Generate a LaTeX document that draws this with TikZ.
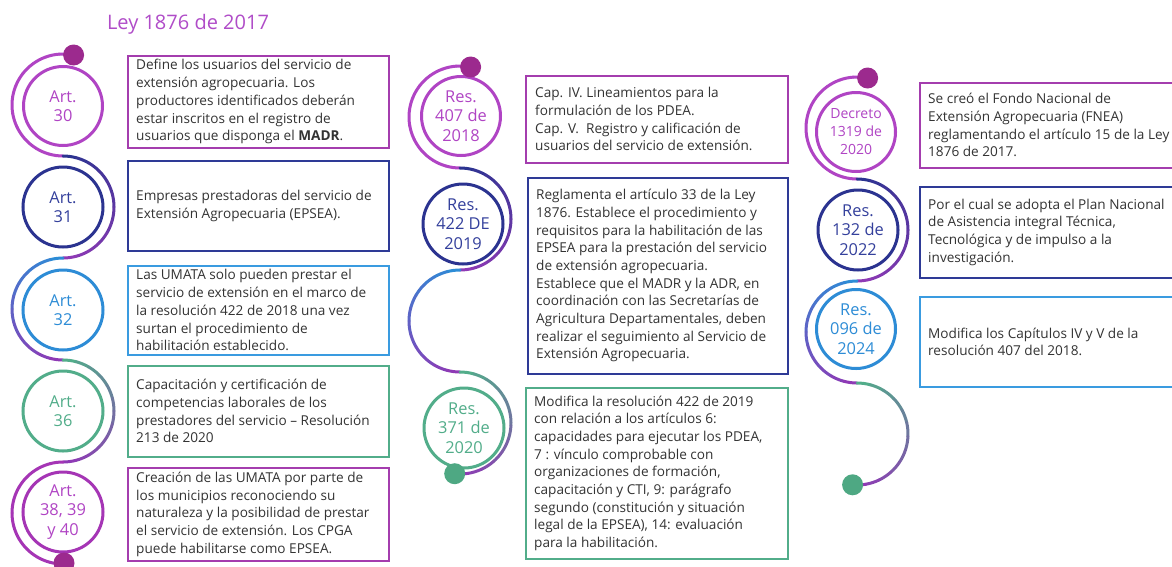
\documentclass[tikz,border=0pt]{standalone}
\usepackage{fontspec}
\setmainfont{Open Sans}
\definecolor{lpurple}{HTML}{B044C4}
\definecolor{dpurple}{HTML}{A535B5}
\definecolor{gpurple}{HTML}{8E3AB5}
\definecolor{dotp}{HTML}{9C2A8E}
\definecolor{navy}{HTML}{2B3390}
\definecolor{navyt}{HTML}{34409C}
\definecolor{cblue}{HTML}{2D8CD6}
\definecolor{bblue}{HTML}{3A9BE0}
\definecolor{teal}{HTML}{52AD8A}
\definecolor{dteal}{HTML}{4EA883}
\definecolor{bpurple}{HTML}{A43DAE}
\definecolor{bnavy}{HTML}{2E3A96}
\definecolor{txtgray}{HTML}{333333}
\definecolor{titlec}{HTML}{B04CC8}
\tikzset{
  arcline/.style={line width=3, line cap=round},
  infobox/.style={draw, line width=1.5, anchor=north west, inner sep=0},
  desc/.style={anchor=west, align=left, text=txtgray, inner sep=0, xshift=9,
    font=\fontsize{13.6}{17.7}\selectfont},
  circ/.style={circle, draw, line width=3, minimum size=79, inner sep=0, align=center,
    font=\fontsize{16.4}{19.5}\selectfont},
  dotn/.style={circle, inner sep=0, minimum size=21},
  titlesty/.style={text=titlec, font=\fontsize{20}{24}\selectfont, inner sep=0}
}
\newcommand\garc[6]{%
  \foreach \k in {0,...,11}{%
    \pgfmathsetmacro\gA{#3+(#4-#3)*\k/12}%
    \pgfmathsetmacro\gB{#3+(#4-#3)*(\k+1)/12}%
    \pgfmathtruncatemacro\gP{100-100*\k/11}%
    \draw[arcline, #5!\gP!#6] ({#1+51*cos(\gA)},{#2+51*sin(\gA)}) arc[start angle=\gA, end angle=\gB, radius=51];
  }}
\begin{document}
\begin{tikzpicture}[x=1pt,y=-1pt]
\clip (0,0) rectangle (1172,566);
\fill[white] (0,0) rectangle (1172,566);

\node[titlesty] (title) at (188,24) {Ley 1876 de 2017};

% ---------- left column ----------
\garc{63}{105}{282}{90}{lpurple}{lpurple}
\garc{63}{207}{-90}{90}{navy}{gpurple}
\garc{63}{309}{270}{90}{cblue}{gpurple}
\garc{63}{411}{-90}{90}{teal}{gpurple}
\garc{63}{513}{270}{90}{dpurple}{dpurple}

\node[circ, draw=lpurple, text=lpurple] (c30) at (63,106) {Art.\\30};
\node[circ, draw=navy, text=navyt, minimum size=80] (c31) at (63,207) {Art.\\31};
\node[circ, draw=cblue, text=cblue, minimum size=80] (c32) at (63,310) {Art.\\32};
\node[circ, draw=teal, text=teal, minimum size=80] (c36) at (63,411) {Art.\\36};
\node[circ, draw=dpurple, text=lpurple, minimum size=80] (c38) at (63,512) {Art.\\38, 39\\y 40};

\node[dotn, fill=dotp] (ltop) at (73.6,55) {};
\node[dotn, fill=dotp] (lbot) at (64,563) {};

\node[infobox, draw=bpurple, minimum width=261, minimum height=92] (b30) at (127,55) {};
\node[desc] (t30) at (b30.west) {Define los usuarios del servicio de\\extensión agropecuaria. Los\\productores identificados deberán\\estar inscritos en el registro de\\usuarios que disponga el \textbf{MADR}.};
\node[infobox, draw=bnavy, minimum width=261, minimum height=90] (b31) at (127,160) {};
\node[desc] (t31) at (b31.west) {Empresas prestadoras del servicio de\\Extensión Agropecuaria (EPSEA).};
\node[infobox, draw=bblue, minimum width=261, minimum height=89] (b32) at (127,265) {};
\node[desc] (t32) at (b32.west) {Las UMATA solo pueden prestar el\\servicio de extensión en el marco de\\la resolución 422 de 2018 una vez\\surtan el procedimiento de\\habilitación establecido.};
\node[infobox, draw=teal, minimum width=261, minimum height=91] (b36) at (127,365) {};
\node[desc] (t36) at (b36.west) {Capacitación y certificación de\\competencias laborales de los\\prestadores del servicio – Resolución\\213 de 2020};
\node[infobox, draw=bpurple, minimum width=261, minimum height=93] (b38) at (127,467) {};
\node[desc] (t38) at (b38.west) {Creación de las UMATA por parte de\\los municipios reconociendo su\\naturaleza y la posibilidad de prestar\\el servicio de extensión. Los CPGA\\puede habilitarse como EPSEA.};

% ---------- middle column ----------
\garc{460}{117}{282}{90}{lpurple}{lpurple}
\garc{460}{219}{-90}{90}{navy}{gpurple}
\garc{460}{321}{270}{90}{cblue}{gpurple}
\garc{460}{423}{-90}{96}{teal}{gpurple}

\node[circ, draw=lpurple, text=lpurple] (r407) at (461,116) {Res.\\407 de\\2018};
\node[circ, draw=navy, text=navyt, minimum size=80] (r422) at (463,224) {Res.\\422 DE\\2019};
\node[circ, draw=teal, text=teal, minimum size=80] (r371) at (464,428) {Res.\\371 de\\2020};

\node[dotn, fill=dotp] (mtop) at (470.6,67) {};
\node[dotn, fill=dteal] (mbot) at (454.7,473.7) {};

\node[infobox, draw=bpurple, minimum width=262, minimum height=87] (b407) at (525,75) {};
\node[desc, xshift=1] (t407) at (b407.west) {Cap. IV. Lineamientos para la\\formulación de los PDEA.\\Cap. V.\ \ Registro y calificación de\\usuarios del servicio de extensión.};
\node[infobox, draw=bnavy, minimum width=260, minimum height=196] (b422) at (527,177) {};
\node[desc] (t422) at (b422.west) {Reglamenta el artículo 33 de la Ley\\1876. Establece el procedimiento y\\requisitos para la habilitación de las\\EPSEA para la prestación del servicio\\de extensión agropecuaria.\\Establece que el MADR y la ADR, en\\coordinación con las Secretarías de\\Agricultura Departamentales, deben\\realizar el seguimiento al Servicio de\\Extensión Agropecuaria.};
\node[infobox, draw=teal, minimum width=262, minimum height=171] (b371) at (525,387) {};
\node[desc] (t371) at (b371.west) {Modifica la resolución 422 de 2019\\con relación a los artículos 6:\\capacidades para ejecutar los PDEA,\\7 : vínculo comprobable con\\organizaciones de formación,\\capacitación y CTI, 9: parágrafo\\segundo (constitución y situación\\legal de la EPSEA), 14: evaluación\\para la habilitación.};

% ---------- right column ----------
\garc{857}{128}{282}{90}{lpurple}{lpurple}
\garc{857}{230}{-90}{90}{navy}{gpurple}
\garc{857}{332}{270}{90}{cblue}{gpurple}
\garc{857}{434}{-90}{95}{teal}{gpurple}

\node[circ, draw=lpurple, text=lpurple, font=\fontsize{14}{18}\selectfont] (d1319) at (856,132) {Decreto\\1319 de\\2020};
\node[circ, draw=navy, text=navyt, minimum size=80] (r132) at (858,230) {Res.\\132 de\\2022};
\node[circ, draw=cblue, text=cblue] (r096) at (856,329) {Res.\\096 de\\2024};

\node[dotn, fill=dotp] (rtop) at (867.6,78) {};
\node[dotn, fill=dteal] (rbot) at (852.6,484.8) {};

\node[infobox, draw=bpurple, minimum width=271, minimum height=85] (b1319) at (919,82) {};
\node[desc] (t1319) at (b1319.west) {Se creó el Fondo Nacional de\\Extensión Agropecuaria (FNEA)\\reglamentando el artículo 15 de la Ley\\1876 de 2017.};
\node[infobox, draw=bnavy, minimum width=271, minimum height=91] (b132) at (919,186) {};
\node[desc] (t132) at (b132.west) {Por el cual se adopta el Plan Nacional\\de Asistencia integral Técnica,\\Tecnológica y de impulso a la\\investigación.};
\node[infobox, draw=bblue, minimum width=271, minimum height=90] (b096) at (919,296) {};
\node[desc] (t096) at (b096.west) {Modifica los Capítulos IV y V de la\\resolución 407 del 2018.};
\end{tikzpicture}
\end{document}
